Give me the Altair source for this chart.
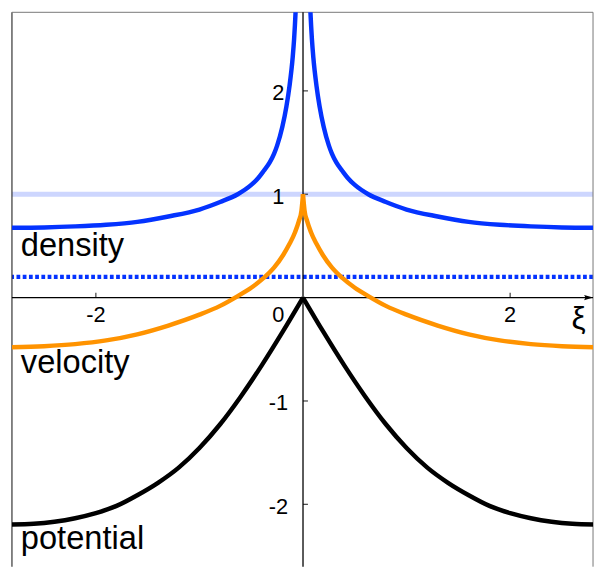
import altair as alt
import pandas as pd

# ---- data (left half; the figure is mirror-symmetric in xi) ----
xi_density = [-2.81, -2.5, -2.2, -1.9, -1.6, -1.3, -1.0, -0.8, -0.63, -0.5, -0.43, -0.38,
              -0.32, -0.28, -0.25, -0.2, -0.16, -0.13, -0.1, -0.086, -0.07, -0.06]
density = [0.675, 0.679, 0.689, 0.705, 0.733, 0.785, 0.852, 0.925, 1.0, 1.09, 1.16, 1.225,
           1.31, 1.39, 1.47, 1.65, 1.85, 2.05, 2.32, 2.50, 2.80, 3.05]

xi_velocity = [-2.81, -2.5, -2.2, -1.9, -1.6, -1.3, -1.0, -0.8, -0.63, -0.5, -0.38, -0.28,
               -0.19, -0.13, -0.076, -0.04, -0.015, 0.0]
velocity = [-0.48, -0.47, -0.45, -0.414, -0.355, -0.27, -0.165, -0.08, 0.015, 0.095, 0.19, 0.29,
            0.415, 0.52, 0.635, 0.74, 0.84, 1.0]

xi_potential = [-2.81, -2.6, -2.4, -2.2, -2.0, -1.8, -1.6, -1.4, -1.2, -1.0, -0.8, -0.6,
                -0.4, -0.2, 0.0]
potential = [-2.195, -2.188, -2.168, -2.134, -2.085, -2.015, -1.912, -1.792, -1.645, -1.455, -1.225, -0.956,
             -0.658, -0.337, 0.0]

reference_level = [1.0]      # pale blue horizontal line
dotted_level = [0.2]         # dotted blue horizontal line

x_ticks = [-2, 2]
x_tick_labels = ["-2", "2"]
y_ticks = [2, 1, -1, -2]
y_tick_labels = ["2", "1", "-1", "-2"]

series_names = ["density", "velocity", "potential"]
series_label_y = [0.40, -0.73, -2.43]
axis_name = "ξ"

XMIN, XMAX = -2.81, 2.80
YMIN, YMAX = -2.603, 2.76

# ---- tables ----
rows = []
for name, xs_, vs_ in [("density", xi_density, density),
                       ("velocity", xi_velocity, velocity),
                       ("potential", xi_potential, potential)]:
    for x, v in zip(xs_, vs_):
        rows.append({"xi": x, "v": v, "series": name, "branch": name + "_L"})
    for x, v in zip(reversed(xs_), reversed(vs_)):
        rows.append({"xi": abs(x), "v": v, "series": name, "branch": name + "_R"})
curves = pd.DataFrame(rows)

xs = alt.Scale(domain=[XMIN, XMAX], nice=False, zero=False)
ys = alt.Scale(domain=[YMIN, YMAX], nice=False, zero=False)
FONT = "Liberation Sans"

ref_line = alt.Chart(pd.DataFrame({"v": reference_level})).mark_rule(
    color="#cdd6fe", strokeWidth=5).encode(y=alt.Y("v:Q", scale=ys, axis=None))

dot_line = alt.Chart(pd.DataFrame({"v": dotted_level})).mark_rule(
    color="#0433ff", strokeWidth=4.2, strokeDash=[3.8, 2.5]).encode(y=alt.Y("v:Q", scale=ys, axis=None))

# frame: left, right and top edges (the bottom edge lies outside the picture)
frame_l = alt.Chart(pd.DataFrame({"x": [XMIN]})).mark_rule(
    color="#333333", strokeWidth=1.2).encode(x=alt.X("x:Q", scale=xs, axis=None))
frame_r = alt.Chart(pd.DataFrame({"x": [XMAX]})).mark_rule(
    color="#777777", strokeWidth=1).encode(x=alt.X("x:Q", scale=xs, axis=None))
frame_h = alt.Chart(pd.DataFrame({"y": [YMAX]})).mark_rule(
    color="#777777", strokeWidth=1).encode(y=alt.Y("y:Q", scale=ys, axis=None))

axes_df = pd.DataFrame({"zero": [0]})
x_axis = alt.Chart(axes_df).mark_rule(color="black", strokeWidth=1.3).encode(
    y=alt.Y("zero:Q", scale=ys, axis=None))
y_axis = alt.Chart(axes_df).mark_rule(color="black", strokeWidth=1.3).encode(
    x=alt.X("zero:Q", scale=xs, axis=None))

arrow = alt.Chart(pd.DataFrame({"x": [XMAX], "y": [0]})).mark_point(
    shape="M0,0L-1,-0.3L-0.85,0L-1,0.3Z", size=324, filled=True, color="black",
    opacity=1, strokeWidth=0).encode(
    x=alt.X("x:Q", scale=xs, axis=None), y=alt.Y("y:Q", scale=ys, axis=None))

xt_df = pd.DataFrame({"t": x_ticks, "lab": x_tick_labels, "zero": 0})
yt_df = pd.DataFrame({"t": y_ticks, "lab": y_tick_labels, "zero": 0})

x_tick_marks = alt.Chart(xt_df).mark_tick(
    orient="vertical", size=5, thickness=1.3, color="black", yOffset=-2.5).encode(
    x=alt.X("t:Q", scale=xs, axis=None), y=alt.Y("zero:Q", scale=ys, axis=None))
y_tick_marks = alt.Chart(yt_df).mark_tick(
    orient="horizontal", size=5, thickness=1.3, color="black", xOffset=2.5).encode(
    y=alt.Y("t:Q", scale=ys, axis=None), x=alt.X("zero:Q", scale=xs, axis=None))

x_tick_text = alt.Chart(xt_df).mark_text(
    font=FONT, fontSize=22, align="center", baseline="alphabetic", dy=24.5, color="black").encode(
    x=alt.X("t:Q", scale=xs, axis=None), y=alt.Y("zero:Q", scale=ys, axis=None), text="lab:N")
zero_text = alt.Chart(pd.DataFrame({"zero": [0], "lab": ["0"]})).mark_text(
    font=FONT, fontSize=22, align="center", baseline="alphabetic", dx=-25, dy=24.5, color="black").encode(
    x=alt.X("zero:Q", scale=xs, axis=None), y=alt.Y("zero:Q", scale=ys, axis=None), text="lab:N")
y_tick_text = alt.Chart(yt_df).mark_text(
    font=FONT, fontSize=22, align="center", baseline="alphabetic", dx=-25, dy=9.5, color="black").encode(
    y=alt.Y("t:Q", scale=ys, axis=None), x=alt.X("zero:Q", scale=xs, axis=None), text="lab:N")

lines = alt.Chart(curves).mark_line(strokeWidth=4.5, clip=True, interpolate="monotone").encode(
    x=alt.X("xi:Q", scale=xs, axis=None),
    y=alt.Y("v:Q", scale=ys, axis=None),
    color=alt.Color("series:N", scale=alt.Scale(domain=series_names,
                                                range=["#0433ff", "#ff9300", "#000000"]), legend=None),
    detail="branch:N",
)

lab_df = pd.DataFrame({"name": series_names, "y": series_label_y, "x": XMIN})
series_text = alt.Chart(lab_df).mark_text(
    font=FONT, fontSize=33, align="left", baseline="alphabetic", dx=9, color="black").encode(
    x=alt.X("x:Q", scale=xs, axis=None), y=alt.Y("y:Q", scale=ys, axis=None), text="name:N")

xi_text = alt.Chart(pd.DataFrame({"x": [2.66], "y": [-0.30], "lab": [axis_name]})).mark_text(
    font=FONT, fontSize=32, align="center", baseline="alphabetic", color="black").encode(
    x=alt.X("x:Q", scale=xs, axis=None), y=alt.Y("y:Q", scale=ys, axis=None), text="lab:N")

chart = alt.layer(
    ref_line, dot_line, frame_l, frame_r, frame_h, x_axis, y_axis, arrow, x_tick_marks, y_tick_marks,
    lines, x_tick_text, zero_text, y_tick_text, series_text, xi_text,
).properties(
    width=588, height=561,
    autosize=alt.AutoSizeParams(type="none"),
    padding={"left": 4, "top": 1, "right": 2, "bottom": 0},
    background="white",
).configure_view(stroke=None)

chart.save("out.html", embed_options={"renderer": "svg", "actions": False})
